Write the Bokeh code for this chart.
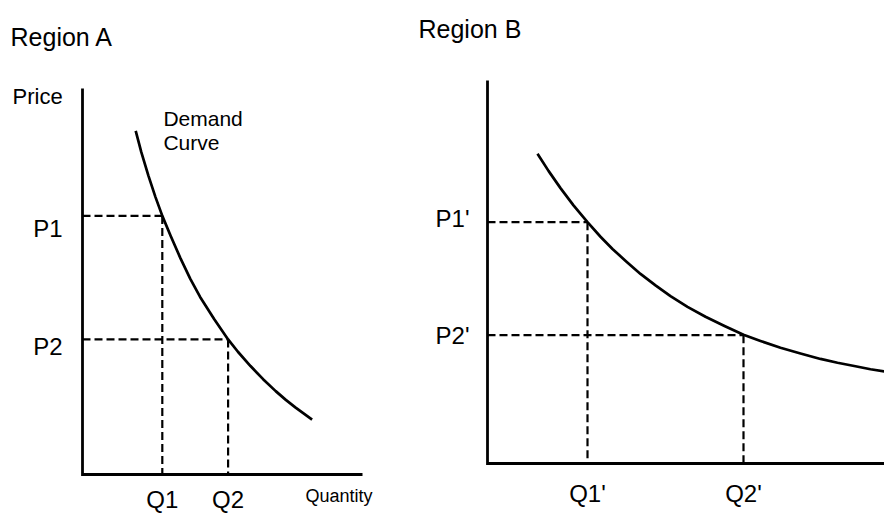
from bokeh.plotting import figure
from bokeh.models import Range1d
from bokeh.layouts import row
from bokeh.embed import file_html
from bokeh.resources import INLINE
from bokeh.core.properties import value

FONT = "Liberation Sans"

# ---------------- data: Region A ----------------
a_title = "Region A"
a_price_ticks = [6.7, 3.5]          # P1, P2
a_price_labels = ["P1", "P2"]
a_qty_ticks = [2.85, 5.2]           # Q1, Q2
a_qty_labels = ["Q1", "Q2"]
a_axis_max = [10, 10]               # quantity, price extent of the axes
demand_a_q = [1.9, 2.1, 2.35, 2.6, 2.85, 3.15, 3.5, 3.85, 4.2, 4.7, 5.2,
              5.55, 6.0, 6.45, 6.9, 7.25, 7.6, 8.2]
demand_a_p = [8.9, 8.35, 7.75, 7.2, 6.7, 6.18, 5.6, 5.07, 4.6, 4.03, 3.5,
              3.18, 2.81, 2.47, 2.16, 1.94, 1.74, 1.42]

# ---------------- data: Region B ----------------
b_title = "Region B"
b_price_ticks = [6.3, 3.35]         # P1', P2'
b_price_labels = ["P1'", "P2'"]
b_qty_ticks = [2.5, 6.4]            # Q1', Q2'
b_qty_labels = ["Q1'", "Q2'"]
b_axis_max = [10, 10]
demand_b_q = [1.25, 1.525, 1.825, 2.15, 2.5, 2.825, 3.125, 3.475, 3.825,
              4.2, 4.575, 5.0, 5.45, 5.925, 6.4, 6.825, 7.325, 7.825, 8.325,
              8.75, 9.2, 9.575, 9.95]
demand_b_p = [8.09, 7.64, 7.19, 6.74, 6.3, 5.92, 5.6, 5.27, 4.95, 4.65,
              4.37, 4.09, 3.83, 3.59, 3.36, 3.2, 3.02, 2.87, 2.73, 2.63,
              2.54, 2.46, 2.4]

H = 514
TEXT_SHIFT = -9   # empirical baseline correction (px)


def make_panel(width, xr, yr, axis_max, price_ticks, price_labels, qty_ticks,
               qty_labels, dq, dp, p_dx, p_dy, q_dy):
    p = figure(width=width, height=H, x_range=Range1d(*xr),
               y_range=Range1d(*yr), output_backend="svg",
               toolbar_location=None, x_axis_location=None,
               y_axis_location=None, min_border=0)
    p.grid.visible = False
    p.outline_line_color = None
    p.background_fill_color = "white"
    p.border_fill_color = "white"

    # the two axes as an L
    p.line(x=[0, 0, axis_max[0]], y=[axis_max[1], 0, 0], line_color="black",
           line_width=2.8, line_join="miter")

    # dashed guides from the axes to the demand curve
    x0 = [0] * len(qty_ticks) + qty_ticks
    y0 = price_ticks + price_ticks
    x1 = qty_ticks + qty_ticks
    y1 = price_ticks + [0] * len(price_ticks)
    p.segment(x0=x0, y0=y0, x1=x1, y1=y1, line_color="black",
              line_width=2.2, line_dash="8 4")

    # demand curve
    p.line(dq, dp, line_color="black", line_width=2.7, line_join="round")

    # tick labels
    p.text(x=[0] * len(price_ticks), y=price_ticks, text=price_labels,
           x_offset=p_dx, y_offset=[d + TEXT_SHIFT for d in p_dy],
           text_align="right", text_baseline="alphabetic",
           text_font=value(FONT), text_font_size="24px", text_color="black")
    p.text(x=qty_ticks, y=[0] * len(qty_ticks), text=qty_labels,
           y_offset=q_dy + TEXT_SHIFT, text_align="center",
           text_baseline="alphabetic", text_font=value(FONT),
           text_font_size="24px", text_color="black")
    return p


def add_text(p, x, y, text, size):
    p.text(x=[x], y=[y], text=[text], text_font=value(FONT),
           text_font_size=size, text_color="black", text_align="left",
           text_baseline="alphabetic", y_offset=TEXT_SHIFT)


# Region A: page x 0..400 ; axis origin at (82, 474), 28 px / unit in x,
# 38.6 px / unit in y
pa = make_panel(400, (-2.9286, 11.357), (-1.036, 12.280), a_axis_max,
                a_price_ticks, a_price_labels, a_qty_ticks, a_qty_labels,
                demand_a_q, demand_a_p, -20, [22, 16], 34)
# Region B: page x 400..884 ; axis origin at (487, 463), 40 px / unit in x,
# 38.3 px / unit in y
pb = make_panel(484, (-2.175, 9.925), (-1.332, 12.089), b_axis_max,
                b_price_ticks, b_price_labels, b_qty_ticks, b_qty_labels,
                demand_b_q, demand_b_p, -18, [5, 9], 39)

add_text(pa, -2.57, 11.11, a_title, "25px")
add_text(pa, -2.5, 9.56, "Price", "22px")
add_text(pa, 2.89, 8.99, "Demand", "21px")
add_text(pa, 2.89, 8.37, "Curve", "21px")
add_text(pa, 7.96, -0.80, "Quantity", "18px")
add_text(pb, -1.725, 11.12, b_title, "25px")

layout = row(pa, pb)

with open("out.html", "w") as f:
    f.write(file_html(layout, INLINE))
